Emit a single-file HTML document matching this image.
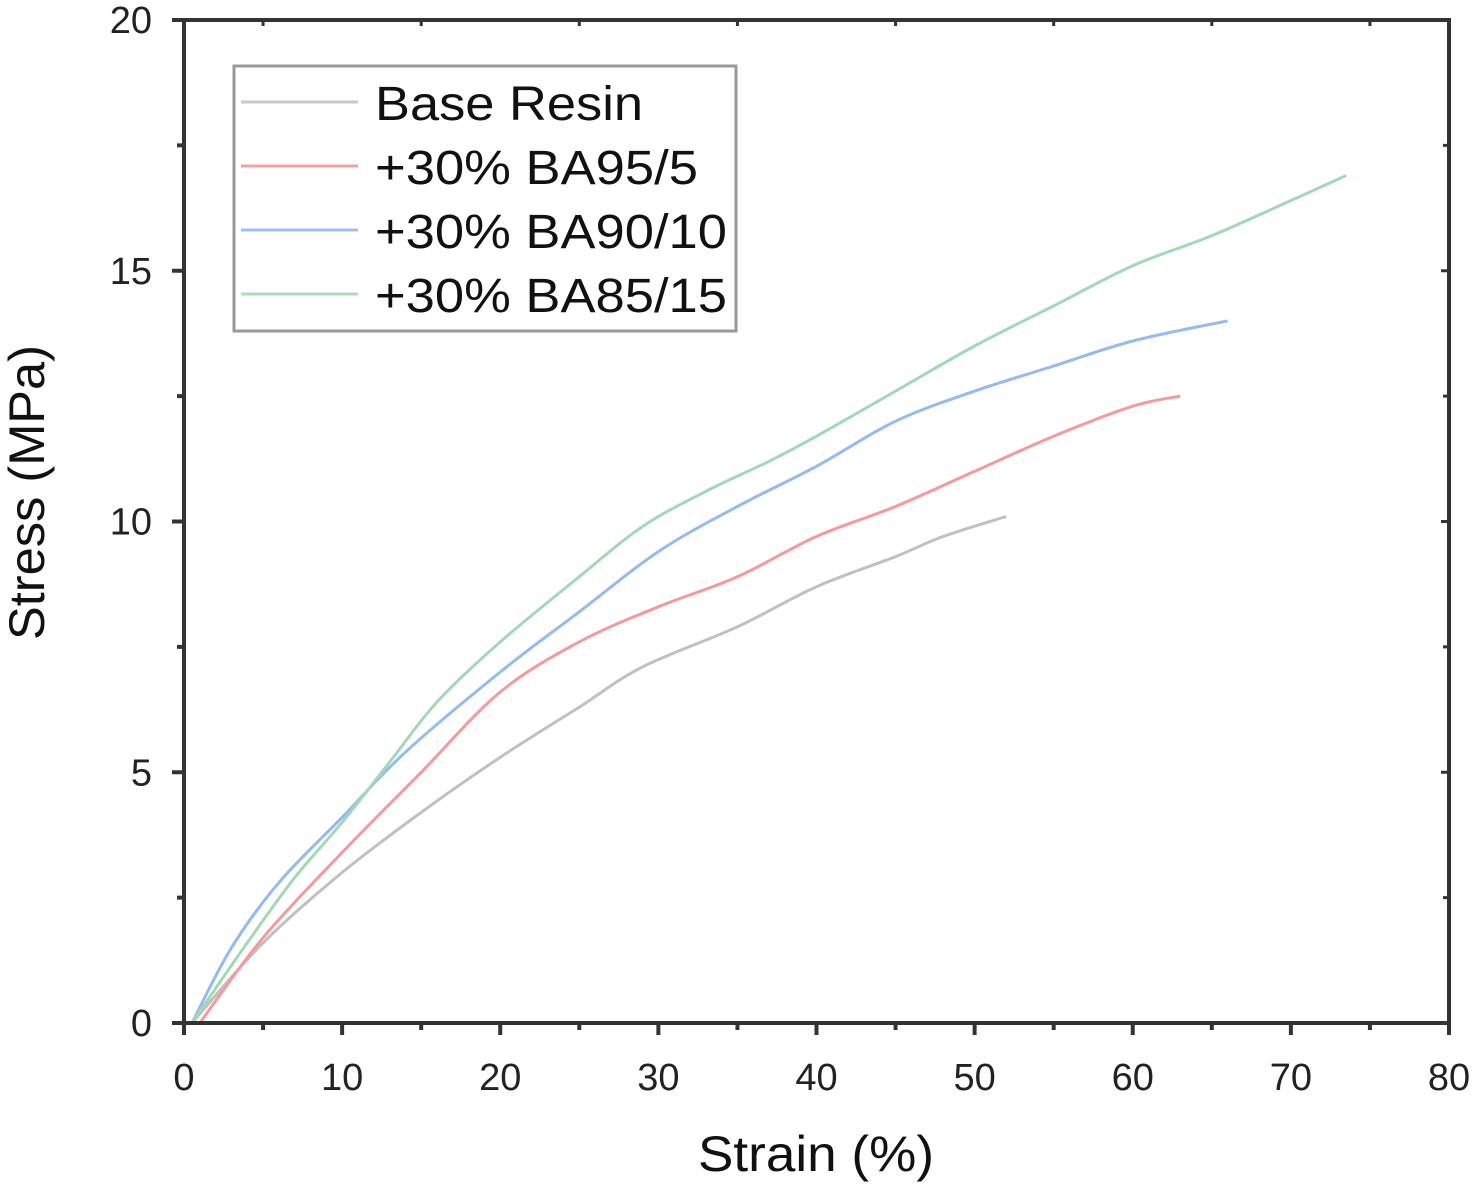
<!DOCTYPE html>
<html><head><meta charset="utf-8"><style>
html,body{margin:0;padding:0;background:#fff;}
svg{display:block;font-family:"Liberation Sans",Arial,sans-serif;}
</style></head><body>
<svg id="chart" width="1476" height="1185" viewBox="0 0 1476 1185">
<g id="plot"></g>
<g id="axes"></g>
<g>
  <rect x="234" y="66" width="502" height="265" fill="#fff" stroke="#999" stroke-width="3"/>
  <line x1="241" y1="102" x2="358" y2="102" stroke="#c8c8c8" stroke-width="3"/>
  <text x="375" y="120" font-size="48" textLength="268" lengthAdjust="spacingAndGlyphs" fill="#111">Base Resin</text>
  <line x1="241" y1="166" x2="358" y2="166" stroke="#f4a0a0" stroke-width="3"/>
  <text x="375" y="184" font-size="48" textLength="323" lengthAdjust="spacingAndGlyphs" fill="#111">+30% BA95/5</text>
  <line x1="241" y1="230" x2="358" y2="230" stroke="#9cc0f0" stroke-width="3"/>
  <text x="375" y="248" font-size="48" textLength="352" lengthAdjust="spacingAndGlyphs" fill="#111">+30% BA90/10</text>
  <line x1="241" y1="294" x2="358" y2="294" stroke="#a8dcbc" stroke-width="3"/>
  <text x="375" y="312" font-size="48" textLength="352" lengthAdjust="spacingAndGlyphs" fill="#111">+30% BA85/15</text>
</g>
<text x="698" y="1171" font-size="50" textLength="236" lengthAdjust="spacingAndGlyphs" fill="#111">Strain (%)</text>
<text transform="translate(44,640) rotate(-90)" font-size="50" textLength="295" lengthAdjust="spacingAndGlyphs" fill="#111">Stress (MPa)</text>
</svg>
<script>
const xTicks = [0,10,20,30,40,50,60,70,80];
const yTicks = [0,5,10,15,20];
const baseX = [0.5,5,10,15,20,25,29,35,40,45,48,52];
const baseY = [0,1.6,3.0,4.2,5.3,6.3,7.1,7.9,8.7,9.3,9.7,10.1];
const ba95X = [1,5,10,15,20,25,30,35,40,45,50,55,60,63];
const ba95Y = [0,1.7,3.4,5.0,6.6,7.6,8.3,8.9,9.7,10.3,11.0,11.7,12.3,12.5];
const ba90X = [0.5,3,6,10,14,20,25,30,35,40,45,50,55,60,66];
const ba90Y = [0,1.5,2.8,4.1,5.4,7.0,8.2,9.4,10.3,11.1,12.0,12.6,13.1,13.6,14.0];
const ba85X = [0.5,4,7,10,13,16,20,25,29,33,37,40,45,50,55,60,65,70,73.5];
const ba85Y = [0,1.6,2.9,4.0,5.2,6.4,7.6,8.9,9.9,10.6,11.2,11.7,12.6,13.5,14.3,15.1,15.7,16.4,16.9];

const L=184,R=1449,T=20,B=1023;
const sx=v=>L+(v-0)/(80-0)*(R-L);
const sy=v=>B-(v-0)/(20-0)*(B-T);
const NS='http://www.w3.org/2000/svg';
const plot=document.getElementById('plot'), axes=document.getElementById('axes');
function mk(tag,attrs,parent){const e=document.createElementNS(NS,tag);for(const k in attrs)e.setAttribute(k,attrs[k]);parent.appendChild(e);return e;}
function smooth(pts){
  let d='M'+pts[0][0].toFixed(1)+' '+pts[0][1].toFixed(1);
  for(let i=0;i<pts.length-1;i++){
    const p0=pts[Math.max(0,i-1)],p1=pts[i],p2=pts[i+1],p3=pts[Math.min(pts.length-1,i+2)];
    const c1=[p1[0]+(p2[0]-p0[0])/6,p1[1]+(p2[1]-p0[1])/6];
    const c2=[p2[0]-(p3[0]-p1[0])/6,p2[1]-(p3[1]-p1[1])/6];
    d+=' C'+c1[0].toFixed(1)+' '+c1[1].toFixed(1)+' '+c2[0].toFixed(1)+' '+c2[1].toFixed(1)+' '+p2[0].toFixed(1)+' '+p2[1].toFixed(1);
  }
  return d;
}

const series=[[baseX,baseY,'#c0c0c0','series-base-resin'],[ba95X,ba95Y,'#f49a9a','series-ba95-5'],[ba90X,ba90Y,'#94baf0','series-ba90-10'],[ba85X,ba85Y,'#a2d8b6','series-ba85-15']];
series.forEach(s=>{
  const pts=s[0].map((x,i)=>[sx(x),sy(s[1][i])]);
  const p=mk('path',{d:smooth(pts),fill:'none',stroke:s[2],'stroke-width':3,'stroke-linejoin':'round'},plot);
  
  
});

const fr=mk('rect',{x:L,y:T,width:R-L,height:B-T,fill:'none',stroke:'#333','stroke-width':4},axes);



xTicks.forEach((v,i)=>{
  const x=sx(v);
  mk('line',{x1:x,y1:B,x2:x,y2:B+12,stroke:'#333','stroke-width':4},axes);
  if(i<xTicks.length-1){const xm=sx(v+5);mk('line',{x1:xm,y1:B,x2:xm,y2:B+7,stroke:'#333','stroke-width':4},axes);
    mk('line',{x1:xm,y1:T,x2:xm,y2:T+6,stroke:'#333','stroke-width':3},axes);}
  const t=mk('text',{x:x,y:B+67,'font-size':38,'text-anchor':'middle',fill:'#222'},axes);
  t.textContent=v;
  
  
});
yTicks.forEach((v,i)=>{
  const y=sy(v);
  mk('line',{x1:L-12,y1:y,x2:L,y2:y,stroke:'#333','stroke-width':4},axes);
  mk('line',{x1:R,y1:y,x2:R-8,y2:y,stroke:'#333','stroke-width':3},axes);
  if(i<yTicks.length-1){const ym=sy(v+2.5);mk('line',{x1:L-7,y1:ym,x2:L,y2:ym,stroke:'#333','stroke-width':4},axes);
    mk('line',{x1:R,y1:ym,x2:R-6,y2:ym,stroke:'#333','stroke-width':3},axes);}
  const t=mk('text',{x:L-32,y:y+13,'font-size':38,'text-anchor':'end',fill:'#222'},axes);
  t.textContent=v;
  
  
});
</script>
</body></html>
